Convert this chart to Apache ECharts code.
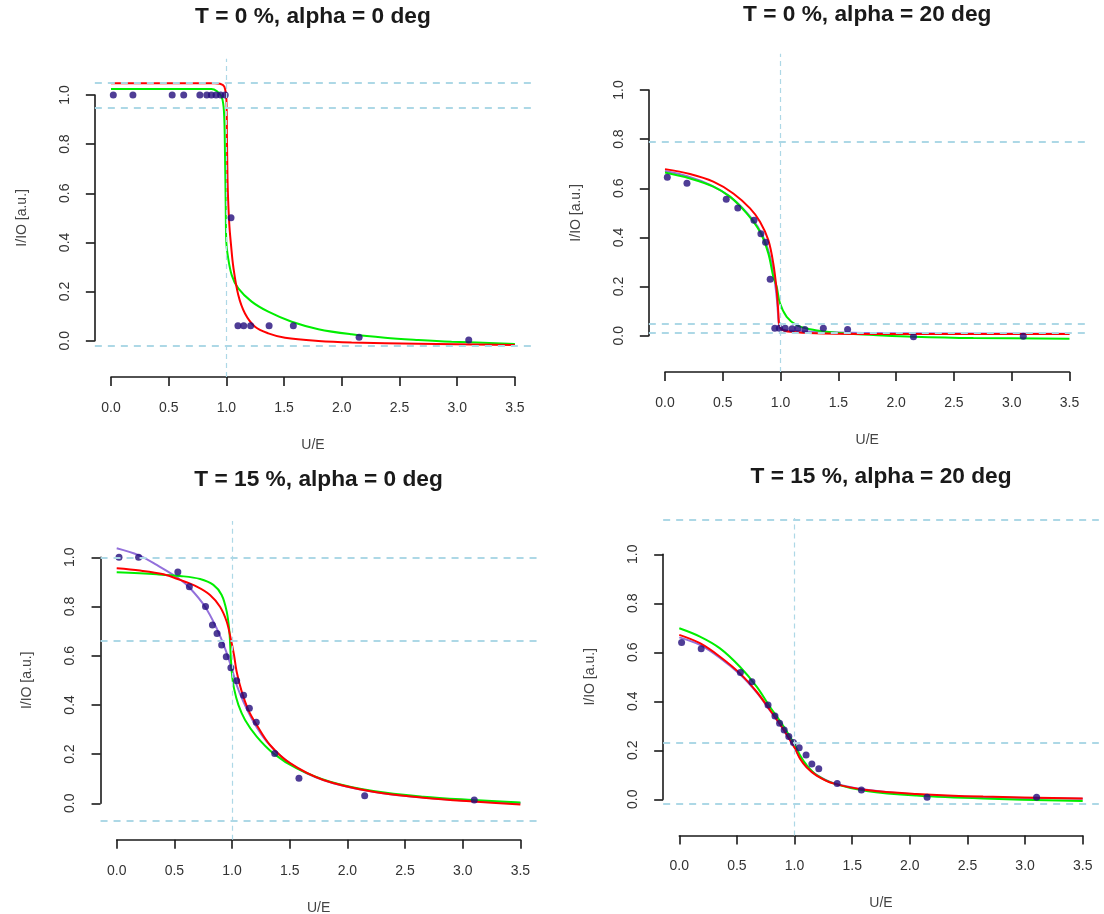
<!DOCTYPE html>
<html><head><meta charset="utf-8">
<script src="https://cdn.jsdelivr.net/npm/echarts@6.0.0/dist/echarts.min.js"></script>
<style>html,body{margin:0;padding:0;background:#fff}#c{width:1104px;height:914px}</style>
</head><body><div id="c"></div>
<script>
// ---------------- data ----------------
const panelTitles = ['T = 0 %, alpha = 0 deg', 'T = 0 %, alpha = 20 deg', 'T = 15 %, alpha = 0 deg', 'T = 15 %, alpha = 20 deg'];
const xAxisName = 'U/E';
const yAxisName = 'I/IO [a.u.]';
const xTickStep = 0.5, xTickMax = 3.5;
const yTickStep = 0.2, yTickMax = 1.0;

// measured points (U/E shared)
const ue = [0.02, 0.19, 0.53, 0.63, 0.77, 0.83, 0.87, 0.91, 0.95, 0.99, 1.04, 1.10, 1.15, 1.21, 1.37, 1.58, 2.15, 3.10];
const obsT0A0  = [1.00, 1.00, 1.00, 1.00, 1.00, 1.00, 1.00, 1.00, 1.00, 1.00, 0.50, 0.061, 0.061, 0.061, 0.061, 0.061, 0.014, 0.003];
const obsT0A20 = [0.645, 0.62, 0.555, 0.52, 0.47, 0.415, 0.38, 0.23, 0.03, 0.03, 0.03, 0.028, 0.03, 0.025, 0.03, 0.025, -0.004, -0.002];
const obsT15A0 = [1.00, 1.00, 0.94, 0.88, 0.80, 0.725, 0.69, 0.643, 0.596, 0.551, 0.498, 0.439, 0.386, 0.329, 0.202, 0.102, 0.031, 0.013];
const obsT15A20 = [0.64, 0.615, 0.518, 0.48, 0.385, 0.34, 0.31, 0.283, 0.256, 0.232, 0.21, 0.181, 0.144, 0.125, 0.065, 0.038, 0.008, 0.008];

// horizontal reference levels and vertical reference (U/E = 1)
const refT0A0 = [1.048, 0.953, -0.024];
const refT0A20 = [0.79, 0.053, 0.007];
const refT15A0 = [1.0, 0.664, -0.068];
const refT15A20 = [1.143, 0.229, -0.016];
const refU = 1.0;

// fitted curves
const greenT0A0 = [[0,1.024],[0.87,1.024],[0.916,1.016],[0.959,0.993],[0.979,0.932],[0.988,0.756],[0.994,0.552],[0.999,0.403],[1.011,0.349],[1.046,0.267],[1.103,0.213],[1.219,0.159],[1.363,0.118],[1.566,0.077],[1.797,0.047],[2.085,0.026],[2.374,0.012],[2.663,0.003],[2.952,-0.004],[3.5,-0.013]];
const redT0A0 = [[0,1.048],[0.9,1.048],[0.945,1.046],[0.982,1.034],[1.0,0.98],[1.005,0.82],[1.01,0.65],[1.017,0.55],[1.027,0.46],[1.04,0.39],[1.06,0.3],[1.103,0.186],[1.161,0.111],[1.248,0.057],[1.363,0.03],[1.508,0.012],[1.797,-0.001],[2.085,-0.007],[2.663,-0.012],[3.5,-0.018]];

const purpleT0A20 = [[0,0.67],[0.2,0.648],[0.4,0.612],[0.55,0.57],[0.7,0.505],[0.8,0.445],[0.87,0.38],[0.92,0.30],[0.95,0.22],[0.97,0.14],[0.985,0.05],[1.0,0.028],[1.1,0.02],[1.5,0.013],[2.0,0.01],[3.5,0.008]];
const greenT0A20 = [[0,0.664],[0.216,0.64],[0.418,0.607],[0.562,0.566],[0.707,0.498],[0.822,0.423],[0.894,0.335],[0.937,0.24],[0.966,0.2],[0.995,0.132],[1.053,0.077],[1.139,0.043],[1.255,0.026],[1.399,0.016],[1.6,0.008],[1.803,0.003],[2.149,-0.004],[2.668,-0.0095],[3.5,-0.012]];
const redT0A20 = [[0,0.678],[0.216,0.658],[0.418,0.627],[0.591,0.579],[0.736,0.518],[0.822,0.464],[0.894,0.389],[0.937,0.294],[0.966,0.186],[0.981,0.091],[0.989,0.043],[1.024,0.022],[1.139,0.014],[1.37,0.009],[1.803,0.007],[3.5,0.007]];

const purpleT15A0 = [[0,1.037],[0.188,1.009],[0.347,0.969],[0.535,0.915],[0.636,0.874],[0.766,0.799],[0.867,0.711],[0.939,0.63],[0.997,0.549],[1.04,0.481],[1.098,0.413],[1.185,0.332],[1.301,0.251],[1.445,0.183],[1.647,0.122],[1.936,0.0745],[2.37,0.037],[2.948,0.0135],[3.5,0.001]];
const greenT15A0 = [[0,0.939],[0.347,0.931],[0.549,0.924],[0.723,0.912],[0.838,0.888],[0.91,0.847],[0.954,0.779],[0.977,0.698],[0.988,0.603],[1.0,0.522],[1.017,0.467],[1.055,0.4],[1.113,0.339],[1.214,0.271],[1.358,0.203],[1.561,0.142],[1.85,0.088],[2.225,0.05],[2.659,0.027],[3.092,0.0135],[3.5,0.003]];
const redT15A0 = [[0,0.955],[0.202,0.946],[0.405,0.931],[0.549,0.908],[0.694,0.881],[0.809,0.847],[0.896,0.799],[0.954,0.738],[0.988,0.671],[1.017,0.603],[1.04,0.535],[1.084,0.454],[1.142,0.379],[1.214,0.318],[1.329,0.237],[1.503,0.163],[1.792,0.095],[2.225,0.047],[2.659,0.023],[3.092,0.007],[3.5,-0.005]];

const purpleT15A20 = [[0,0.661],[0.179,0.63],[0.353,0.577],[0.526,0.51],[0.671,0.436],[0.786,0.363],[0.887,0.296],[0.96,0.242],[1.003,0.21],[1.046,0.17],[1.104,0.134],[1.191,0.1],[1.335,0.067],[1.624,0.039],[2.058,0.02],[2.636,0.009],[3.5,0.002]];
const greenT15A20 = [[0,0.698],[0.179,0.664],[0.353,0.616],[0.526,0.541],[0.671,0.46],[0.786,0.378],[0.887,0.31],[0.96,0.256],[1.003,0.222],[1.046,0.181],[1.104,0.14],[1.191,0.099],[1.335,0.065],[1.624,0.034],[2.058,0.015],[2.636,0.003],[3.5,-0.007]];
const redT15A20 = [[0,0.671],[0.179,0.637],[0.353,0.582],[0.526,0.514],[0.671,0.439],[0.786,0.365],[0.887,0.297],[0.96,0.242],[1.003,0.208],[1.046,0.167],[1.104,0.131],[1.191,0.097],[1.335,0.065],[1.624,0.038],[2.058,0.022],[2.636,0.011],[3.5,0.003]];

// ---------------- layout (pixel geometry of each panel) ----------------
// x0/x1: pixel of U/E = 0 and 3.5 ; yb/yt: pixel of I/IO = 0 and 1
const layout = [
  {x0: 111.0, x1: 514.9, yb: 340.7, yt: 95.0, ty: 17},
  {x0: 665.0, x1: 1069.5, yb: 335.7, yt: 90.0, ty: 15},
  {x0: 116.7, x1: 520.4, yb: 803.3, yt: 557.3, ty: 480},
  {x0: 679.3, x1: 1082.7, yb: 799.3, yt: 554.3, ty: 477}
];
const panels = [
  {title: panelTitles[0], obs: obsT0A0, ref: refT0A0, purple: null, green: greenT0A0, red: redT0A0},
  {title: panelTitles[1], obs: obsT0A20, ref: refT0A20, purple: purpleT0A20, green: greenT0A20, red: redT0A20},
  {title: panelTitles[2], obs: obsT15A0, ref: refT15A0, purple: purpleT15A0, green: greenT15A0, red: redT15A0},
  {title: panelTitles[3], obs: obsT15A20, ref: refT15A20, purple: purpleT15A20, green: greenT15A20, red: redT15A20}
];

const XPAD = 0.04 * xTickMax;          // R's 4% extension of xlim = c(0, 3.5)
const YLO = -0.1, YHI = 1.1;           // ylim
const YPAD = 0.04 * (YHI - YLO);
const FONT = '"Liberation Sans", Arial, sans-serif';

const chart = echarts.init(document.getElementById('c'), null, {renderer: 'canvas'});
const grid = [], xAxis = [], yAxis = [], series = [], graphic = [];

layout.forEach((L, p) => {
  const W = L.x1 - L.x0, H = L.yb - L.yt;
  const pxX = W / xTickMax, pxY = H / yTickMax;
  const plotLeft = L.x0 - XPAD * pxX, plotRight = L.x1 + XPAD * pxX;
  const plotTop = L.yb - (YHI + YPAD) * pxY, plotBottom = L.yb - (YLO - YPAD) * pxY;
  grid.push({left: plotLeft, top: plotTop, width: plotRight - plotLeft, height: plotBottom - plotTop, outerBoundsMode: 'none', containLabel: false});
  grid.push({left: L.x0, top: L.yt, width: W, height: H, outerBoundsMode: 'none', containLabel: false});
  const gA = 2 * p, gB = 2 * p + 1;
  xAxis.push({type: 'value', gridIndex: gA, min: -XPAD, max: xTickMax + XPAD, show: false});
  yAxis.push({type: 'value', gridIndex: gA, min: YLO - YPAD, max: YHI + YPAD, show: false});
  xAxis.push({
    type: 'value', gridIndex: gB, min: 0, max: xTickMax, interval: xTickStep, position: 'bottom',
    offset: plotBottom - L.yb,
    name: xAxisName, nameLocation: 'middle', nameGap: 61,
    nameTextStyle: {fontFamily: FONT, fontSize: 14, color: '#444'},
    axisLine: {show: true, onZero: false, lineStyle: {color: '#1a1a1a', width: 1.6}},
    axisTick: {show: true, inside: false, length: 9, lineStyle: {color: '#1a1a1a', width: 1.6}},
    axisLabel: {show: true, margin: 24, fontFamily: FONT, fontSize: 14, color: '#333', formatter: v => v.toFixed(1)},
    splitLine: {show: false}
  });
  yAxis.push({
    type: 'value', gridIndex: gB, min: 0, max: yTickMax, interval: yTickStep, position: 'left',
    offset: L.x0 - plotLeft,
    name: yAxisName, nameLocation: 'middle', nameGap: 66, nameRotate: 90,
    nameTextStyle: {fontFamily: FONT, fontSize: 14, color: '#444'},
    axisLine: {show: true, onZero: false, lineStyle: {color: '#1a1a1a', width: 1.6}},
    axisTick: {show: true, inside: false, length: 9, lineStyle: {color: '#1a1a1a', width: 1.6}},
    axisLabel: {show: true, rotate: 90, margin: 23, fontFamily: FONT, fontSize: 14, color: '#333', formatter: v => v.toFixed(1)},
    splitLine: {show: false}
  });

  const P = panels[p];
  const curve = (data, color, z) => ({
    type: 'line', xAxisIndex: gA, yAxisIndex: gA, data: data, showSymbol: false, symbol: 'none',
    smooth: 0.35, silent: true, z: z, animation: false,
    lineStyle: {color: color, width: 2}
  });
  if (P.purple) series.push(curve(P.purple, '#9370db', 2));
  series.push(curve(P.green, '#00ee00', 3));
  series.push(curve(P.red, '#ff0000', 4));
  series.push({
    type: 'scatter', xAxisIndex: gA, yAxisIndex: gA, symbol: 'circle', symbolSize: 7, z: 6, silent: true, animation: false,
    itemStyle: {color: '#230d7c'},
    data: ue.map((u, i) => [u, P.obs[i]])
  });
  // reference lines drawn last (on top), like abline()
  series.push({
    type: 'line', xAxisIndex: gA, yAxisIndex: gA, data: [], silent: true, z: 8,
    markLine: {
      silent: true, symbol: ['none', 'none'], animation: false, label: {show: false}, z: 8,
      lineStyle: {color: '#add8e6', type: [7, 6], width: 1.8},
      data: P.ref.map(v => ({yAxis: v})).concat([{xAxis: refU, lineStyle: {color: '#add8e6', type: [5, 4], width: 1.2}}])
    }
  });
  graphic.push({
    type: 'text', x: (L.x0 + L.x1) / 2, y: L.ty, silent: true,
    style: {text: P.title, fill: '#1a1a1a', font: 'bold 22.7px ' + FONT, textAlign: 'center', textVerticalAlign: 'middle'}
  });
});

chart.setOption({
  backgroundColor: '#ffffff',
  animation: false,
  grid: grid, xAxis: xAxis, yAxis: yAxis, series: series, graphic: graphic
});
</script>
</body></html>
